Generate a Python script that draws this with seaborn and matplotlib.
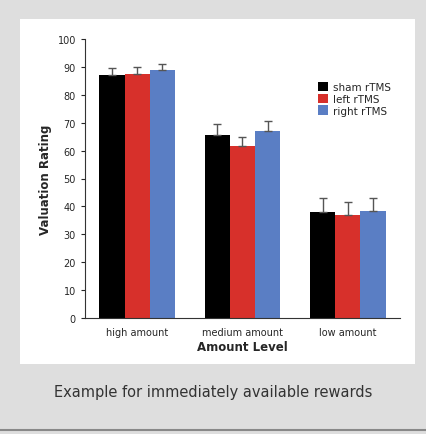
import numpy as np
import pandas as pd
import matplotlib
matplotlib.use("Agg")
import matplotlib.pyplot as plt
import seaborn as sns
from matplotlib.patches import Rectangle

levels = ["high amount", "medium amount", "low amount"]
conditions = ["sham rTMS", "left rTMS", "right rTMS"]
values = {
    "sham rTMS": [87.0, 65.5, 38.0],
    "left rTMS": [87.5, 61.5, 37.0],
    "right rTMS": [89.0, 67.0, 38.5],
}
errors = {
    "sham rTMS": [2.5, 4.0, 5.0],
    "left rTMS": [2.3, 3.5, 4.5],
    "right rTMS": [2.0, 3.5, 4.5],
}
colors = ["#000000", "#d7302b", "#5a7ec4"]

rows = []
for c in conditions:
    for lv, v in zip(levels, values[c]):
        rows.append({"level": lv, "cond": c, "value": v})
df = pd.DataFrame(rows)

sns.set_style("white")
plt.rcParams["font.family"] = ["DejaVu Sans"]
fig = plt.figure(figsize=(4.27, 4.35), dpi=100)
fig.patch.set_facecolor("#dedede")
fig.add_artist(Rectangle((20 / 427, 1 - 365 / 435), 395 / 427, 345 / 435,
                         transform=fig.transFigure, facecolor="white", edgecolor="none", zorder=0))
fig.add_artist(plt.Line2D([0, 1], [1 - 431 / 435] * 2, transform=fig.transFigure, color="#888888", lw=1.5))

ax = fig.add_axes([85 / 427, 1 - 319 / 435, 315 / 427, 279 / 435])
ax.set_facecolor("none")
sns.barplot(data=df, x="level", y="value", hue="cond", order=levels, hue_order=conditions,
            palette=colors, errorbar=None, width=0.72, saturation=1, linewidth=0, ax=ax)

for container, c in zip(ax.containers, conditions):
    for bar, e in zip(container, errors[c]):
        x = bar.get_x() + bar.get_width() / 2
        ax.errorbar(x, bar.get_height(), yerr=[[0], [e]], color="#555555", capsize=3, lw=1)

ax.set_ylim(0, 100)
ax.set_yticks(range(0, 101, 10))
ax.tick_params(axis="both", labelsize=7, length=3, direction="out", left=True, bottom=False)
ax.set_ylabel("Valuation Rating", fontsize=8.5, fontweight="bold")
ax.set_xlabel("Amount Level", fontsize=8.5, fontweight="bold", labelpad=2)
for s in ["top", "right"]:
    ax.spines[s].set_visible(False)
for s in ["left", "bottom"]:
    ax.spines[s].set_color("#333333")
    ax.spines[s].set_linewidth(0.8)
ax.legend(frameon=False, fontsize=7.5, loc="upper right", bbox_to_anchor=(1.0, 0.88),
          handlelength=1.0, handleheight=1.0, handletextpad=0.4, labelspacing=0.15)

fig.text(0.5, 1 - 393 / 435, "Example for immediately available rewards", ha="center", va="center",
         fontsize=10.5, color="#333333")
fig.savefig("out.png", dpi=100, facecolor=fig.get_facecolor())
